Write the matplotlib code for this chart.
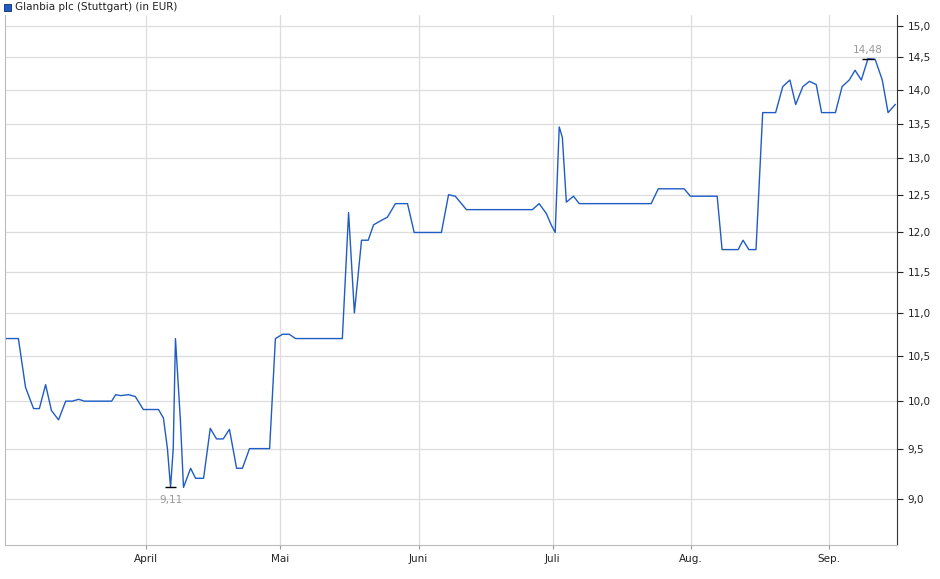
import matplotlib
matplotlib.use("Agg")
import matplotlib.pyplot as plt
from matplotlib.ticker import FixedLocator, NullLocator, FixedFormatter

# days counted from 1 April
days = [-31.6, -28.7, -27.1, -25.3, -24.0, -22.6, -21.3, -19.7, -18.1, -16.6, -15.2, -13.9,
        -7.8, -6.9, -5.8, -4.0, -2.5, -0.7, 2.7, 3.8, 4.7, 5.4, 6.0, 6.5, 7.6, 8.3, 9.9,
        11.0, 12.8, 14.3, 15.7, 17.2, 18.6, 20.2, 21.5, 23.1, 27.6, 28.9, 30.5, 32.0, 33.4,
        43.9, 45.3, 46.6, 48.2, 49.7, 50.9, 52.4, 54.0, 55.8, 58.5, 60.0, 66.1, 67.7, 69.2,
        71.7, 86.5, 88.0, 89.6, 90.7, 91.6, 92.5, 93.2, 94.1, 95.7, 97.0, 113.1, 114.7,
        120.5, 121.9, 127.9, 129.0, 132.6, 133.7, 135.0, 136.6, 138.1, 141.0, 142.6, 144.2,
        145.5, 147.1, 148.6, 150.1, 151.3, 154.4, 155.9, 157.5, 158.8, 160.2, 161.7, 163.3,
        164.9, 166.2, 167.8]
prices = [10.7, 10.7, 10.15, 9.92, 9.92, 10.18, 9.9, 9.8, 10.0, 10.0, 10.02, 10.0,
          10.0, 10.07, 10.06, 10.07, 10.05, 9.91, 9.91, 9.82, 9.5, 9.11, 9.5, 10.7, 9.8, 9.11, 9.3,
          9.2, 9.2, 9.71, 9.6, 9.6, 9.7, 9.3, 9.3, 9.5, 9.5, 10.7, 10.75, 10.75, 10.7,
          10.7, 12.26, 11.0, 11.9, 11.9, 12.1, 12.15, 12.2, 12.38, 12.38, 12.0, 12.0, 12.5, 12.48,
          12.3, 12.3, 12.38, 12.25, 12.1, 12.0, 13.45, 13.3, 12.4, 12.48, 12.38, 12.38, 12.58,
          12.58, 12.48, 12.48, 11.78, 11.78, 11.9, 11.78, 11.78, 13.66, 13.66, 14.05, 14.15,
          13.78, 14.05, 14.13, 14.08, 13.66, 13.66, 14.05, 14.15, 14.3, 14.15, 14.48, 14.47,
          14.15, 13.66, 13.78]
month_pos = [0, 30, 61, 91, 122, 153]
month_labels = ["April", "Mai", "Juni", "Juli", "Aug.", "Sep."]
y_ticks = [9.0, 9.5, 10.0, 10.5, 11.0, 11.5, 12.0, 12.5, 13.0, 13.5, 14.0, 14.5, 15.0]
title = "Glanbia plc (Stuttgart) (in EUR)"

fig = plt.figure(figsize=(9.4, 5.79), dpi=100)
ax = fig.add_axes([5 / 940, 34 / 579, 892 / 940, 530 / 579])
ax.plot(days, prices, color="#1f5cc4", linewidth=1.0)
ax.set_yscale("log")
ax.set_xlim(-31.7, 168.2)
ax.set_ylim(8.56, 15.18)

ax.yaxis.set_major_locator(FixedLocator(y_ticks))
ax.yaxis.set_major_formatter(FixedFormatter([f"{v:.1f}".replace(".", ",") for v in y_ticks]))
ax.yaxis.set_minor_locator(NullLocator())
ax.yaxis.tick_right()
ax.set_xticks(month_pos)
ax.set_xticklabels(month_labels)
ax.tick_params(labelsize=7.5, colors="#222222", length=4)
ax.tick_params(axis="x", length=3, color="#999999")
ax.grid(color="#dddddd", linewidth=0.9)
ax.set_axisbelow(True)
for s in ["top"]:
    ax.spines[s].set_visible(False)
ax.spines["left"].set_color("#bbbbbb")
ax.spines["bottom"].set_color("#bbbbbb")
ax.spines["right"].set_color("#333333")

# min / max markers
i_min = prices.index(min(prices))
i_max = prices.index(max(prices))
for i, dy, va in [(i_min, -0.07, "top"), (i_max, 0.06, "bottom")]:
    ax.hlines(prices[i], days[i] - 1.3, days[i] + 1.3, color="black", linewidth=1.0)
    ax.text(days[i], prices[i] + dy, f"{prices[i]:.2f}".replace(".", ","),
            ha="center", va=va, fontsize=7.5, color="#999999")

fig.patches.append(plt.Rectangle((4 / 940, 1 - 11 / 579), 7 / 940, 7 / 579,
                                 transform=fig.transFigure, facecolor="#1f5cc4",
                                 edgecolor="#0a2a6a", linewidth=0.6))
fig.text(15 / 940, 1 - 7 / 579, title, fontsize=7.5, va="center", color="#222222")

fig.savefig("out.png", dpi=100)
